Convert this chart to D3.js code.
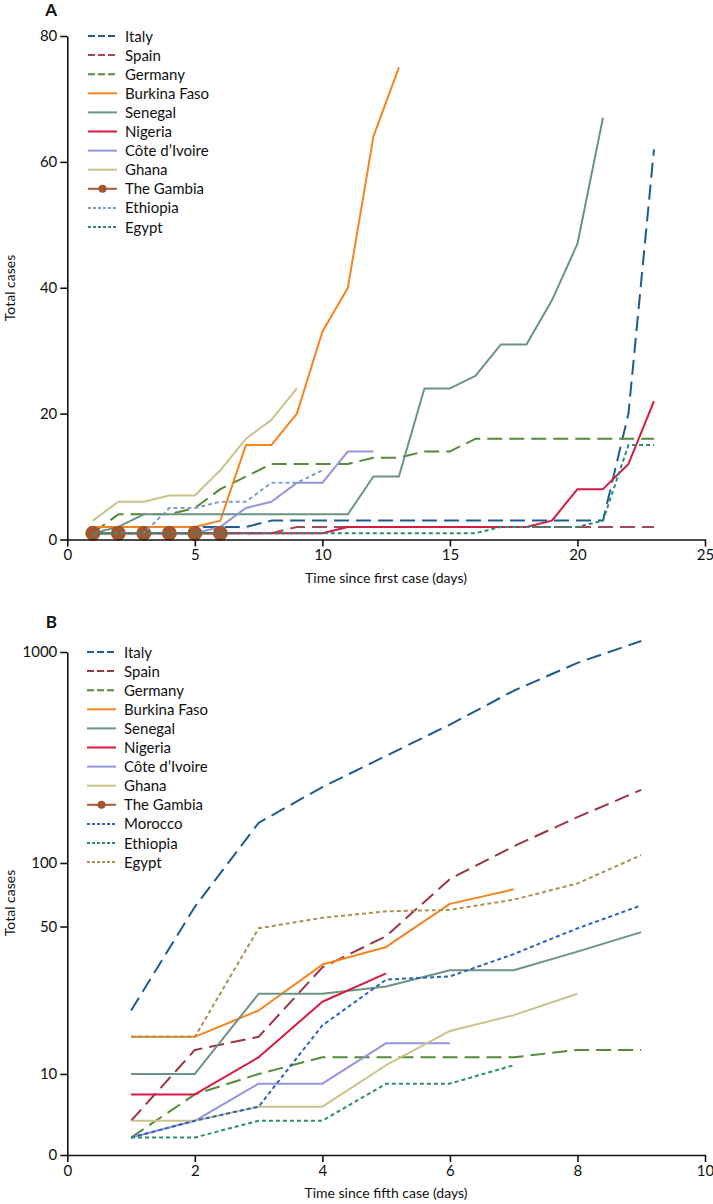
<!DOCTYPE html>
<html><head><meta charset="utf-8">
<script src="https://cdn.jsdelivr.net/npm/d3@7/dist/d3.min.js"></script>
<style>
body{margin:0;background:#fff}
svg text{font-family:Lato,"Liberation Sans",sans-serif;fill:#111}
</style>
</head><body>
<svg id="chart" width="713" height="1204"></svg>
<script>
// ---------- DATA ----------
// Panel A: total cases by day since first case (day 1 = first value)
const countriesA = ["Italy","Spain","Germany","Burkina Faso","Senegal","Nigeria","Côte d’Ivoire","Ghana","The Gambia","Ethiopia","Egypt"];
const italyA    = [2,2,2,2,2,2,2,3,3,3,3,3,3,3,3,3,3,3,3,3,3,20,62];
const spainA    = [1,1,1,1,1,1,1,1,2,2,2,2,2,2,2,2,2,2,2,2,2,2,2];
const germanyA  = [1,4,4,4,5,8,10,12,12,12,12,13,13,14,14,16,16,16,16,16,16,16,16];
const burkinaA  = [2,2,2,2,2,3,15,15,20,33,40,64,75];
const senegalA  = [1,2,4,4,4,4,4,4,4,4,4,10,10,24,24,26,31,31,38,47,67];
const nigeriaA  = [1,1,1,1,1,1,1,1,1,1,2,2,2,2,2,2,2,2,3,8,8,12,22];
const civA      = [1,1,1,1,1,2,5,6,9,9,14,14];
const ghanaA    = [3,6,6,7,7,11,16,19,24];
const gambiaA   = [1,1,1,1,1,1];
const ethiopiaA = [1,1,1,5,5,6,6,9,9,11];
const egyptA    = [1,1,1,1,1,1,1,1,1,1,1,1,1,1,1,1,2,2,2,2,3,15,15];
const xTicksA = [0,5,10,15,20,25];
const yTicksA = [0,20,40,60,80];

// Panel B: total cases by day since fifth case
const countriesB = ["Italy","Spain","Germany","Burkina Faso","Senegal","Nigeria","Côte d’Ivoire","Ghana","The Gambia","Morocco","Ethiopia","Egypt"];
const italyB    = [20,62,155,229,322,453,655,888,1128];
const spainB    = [6,13,15,32,45,84,120,165,222];
const germanyB  = [5,8,10,12,12,12,12,13,13];
const burkinaB  = [15,15,20,33,40,64,75];
const senegalB  = [10,10,24,24,26,31,31,38,47];
const nigeriaB  = [8,8,12,22,30];
const civB      = [5,6,9,9,14,14];
const ghanaB    = [6,6,7,7,11,16,19,24];
const gambiaB   = [];
const moroccoB  = [5,6,7,17,28,29,37,49,63];
const ethiopiaB = [5,5,6,6,9,9,11];
const egyptB    = [15,15,49,55,59,60,67,80,109];
const xTicksB = [0,2,4,6,8,10];
const yTicksB = [10,50,100,1000];
const yBottomLabelB = "0";

// ---------- STYLES ----------
const DASH = "15,7", DOT = "4,3";
const LDASH = "7,3", LDOT = "3,2";
const stylesA = {
  "Italy":{c:"#1d5c8e",d:"dash"}, "Spain":{c:"#a04a5a",d:"dash"}, "Germany":{c:"#558a38",d:"dash"},
  "Burkina Faso":{c:"#f5841f"}, "Senegal":{c:"#6b9484"}, "Nigeria":{c:"#d71a42"},
  "Côte d’Ivoire":{c:"#9494dc"}, "Ghana":{c:"#c9c38a"}, "The Gambia":{c:"#a85a35",m:true},
  "Ethiopia":{c:"#7fa0c6",d:"dot"}, "Egypt":{c:"#2b8a78",d:"dot"}
};
const stylesB = {
  "Italy":{c:"#1d5c8e",d:"dash"}, "Spain":{c:"#9b3444",d:"dash"}, "Germany":{c:"#558a38",d:"dash"},
  "Burkina Faso":{c:"#f5841f"}, "Senegal":{c:"#6b9484"}, "Nigeria":{c:"#d71a42"},
  "Côte d’Ivoire":{c:"#9494dc"}, "Ghana":{c:"#c9c38a"}, "The Gambia":{c:"#a85a35",m:true},
  "Morocco":{c:"#2a62c4",d:"dot"}, "Ethiopia":{c:"#2b8a78",d:"dot"}, "Egypt":{c:"#a8924f",d:"dot"}
};
const seriesA = [italyA,spainA,germanyA,burkinaA,senegalA,nigeriaA,civA,ghanaA,gambiaA,ethiopiaA,egyptA];
const seriesB = [italyB,spainB,germanyB,burkinaB,senegalB,nigeriaB,civB,ghanaB,gambiaB,moroccoB,ethiopiaB,egyptB];

const svg = d3.select("#chart");

function drawPanel(o){
  const g = svg.append("g");
  // series lines
  o.names.forEach((name,k)=>{
    const vals = o.series[k]; const st = o.styles[name];
    if(!vals.length) return;
    const pts = vals.map((v,i)=>[i+1,v]);
    const line = d3.line().x(p=>o.x(p[0])).y(p=>o.y(p[1]));
    g.append("path").attr("d",line(pts)).attr("fill","none")
      .attr("stroke",st.c).attr("stroke-width",2).attr("stroke-linejoin","round")
      .attr("stroke-dasharray", st.d==="dash"?DASH:st.d==="dot"?DOT:null);
    if(st.m){
      g.selectAll(null).data(pts).enter().append("circle")
        .attr("cx",p=>o.x(p[0])).attr("cy",p=>o.y(p[1])).attr("r",7.5).attr("fill","#a3552f");
    }
  });
  // axes
  const xa = g.append("g").attr("transform",`translate(0,${o.y0})`)
    .call(d3.axisBottom(o.x).tickValues(o.xTicks).tickSize(7).tickSizeOuter(0).tickPadding(3));
  const ya = g.append("g").attr("transform",`translate(${o.x(0)},0)`)
    .call(d3.axisLeft(o.y).tickValues(o.yTicks).tickFormat(o.yFmt).tickSize(7).tickSizeOuter(0).tickPadding(3));
  [xa,ya].forEach(a=>{
    a.select(".domain").attr("stroke","#111").attr("stroke-width",1.6);
    a.selectAll(".tick line").attr("stroke","#111").attr("stroke-width",1.6);
    a.selectAll(".tick text").style("font-size","15px").attr("fill","#222");
  });
  // axis titles
  g.append("text").attr("x",386).attr("y",o.y0+43).attr("text-anchor","middle")
    .style("font-size","14px").text(o.xTitle);
  g.append("text").attr("transform",`translate(15,${o.yMid}) rotate(-90)`).attr("text-anchor","middle")
    .style("font-size","14px").text("Total cases");
  // panel letter
  g.append("text").attr("x",57).attr("y",o.letterY).attr("text-anchor","end")
    .style("font-size","17px").style("font-weight","bold").text(o.letter);
  // legend
  const lg = g.append("g");
  o.names.forEach((name,k)=>{
    const st = o.styles[name]; const yy = o.legY + k*o.legStep;
    lg.append("line").attr("x1",o.legX).attr("x2",o.legX+29).attr("y1",yy).attr("y2",yy)
      .attr("stroke",st.c).attr("stroke-width",2)
      .attr("stroke-dasharray", st.d==="dash"?LDASH:st.d==="dot"?LDOT:null);
    if(st.m) lg.append("circle").attr("cx",o.legX+14.5).attr("cy",yy).attr("r",4).attr("fill","#a3552f");
    lg.append("text").attr("x",o.legX+37).attr("y",yy+5.5).style("font-size","15px").attr("fill","#222").text(name);
  });
}

// Panel A
const xA = d3.scaleLinear().domain([0,25]).range([67.3,705]);
const yA = d3.scaleLinear().domain([0,80]).range([539.5,36]);
drawPanel({names:countriesA,series:seriesA,styles:stylesA,x:xA,y:yA,y0:539.5,
  xTicks:xTicksA,yTicks:yTicksA,yFmt:d3.format("d"),
  xTitle:"Time since first case (days)",yMid:288,letter:"A",letterY:16,
  legX:88,legY:36,legStep:19.1});

// Panel B (log scale, bottom of axis labelled "0")
const yBottom = 4.13;
const xB = d3.scaleLinear().domain([0,10]).range([67.3,705]);
const yB = d3.scaleLog().domain([yBottom,1000]).range([1155,652]);
drawPanel({names:countriesB,series:seriesB,styles:stylesB,x:xB,y:yB,y0:1155,
  xTicks:xTicksB,yTicks:[yBottom].concat(yTicksB),yFmt:d=>d===yBottom?yBottomLabelB:String(d),
  xTitle:"Time since fifth case (days)",yMid:903,letter:"B",letterY:628,
  legX:87,legY:652,legStep:19.1});
</script>
</body></html>
